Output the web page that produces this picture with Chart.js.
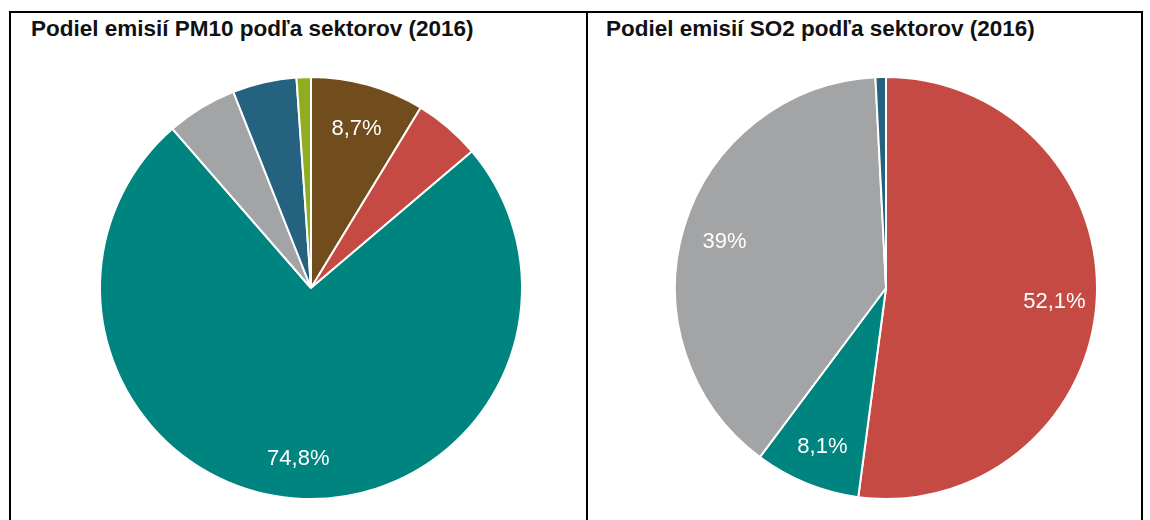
<!DOCTYPE html>
<html lang="sk">
<head>
<meta charset="utf-8">
<title>Podiel emisií podľa sektorov (2016)</title>
<script src="https://cdn.jsdelivr.net/npm/chart.js@4.4.1/dist/chart.umd.min.js"></script>
<style>
  html, body { margin: 0; padding: 0; background: #fff; }
  #wrap { position: relative; width: 1150px; height: 520px; overflow: hidden; font-family: "Liberation Sans", Arial, sans-serif; }
  .panel { position: absolute; top: 11px; height: 520px; border: 2px solid #000; border-bottom: none; box-sizing: border-box; }
  .title { position: absolute; top: 16px; font-weight: bold; font-size: 22.5px; color: #111; white-space: nowrap; }
  .pie { position: absolute; width: 460px; height: 460px; }
</style>
</head>
<body>
<div id="wrap">
  <div class="panel" style="left:9px; width:579px;"></div>
  <div class="panel" style="left:586px; width:557px;"></div>
  <div class="title" style="left:31px;">Podiel emisií PM10 podľa sektorov (2016)</div>
  <div class="title" style="left:606px;">Podiel emisií SO2 podľa sektorov (2016)</div>
  <div class="pie" style="left:81px; top:58px;"><canvas id="pm10"></canvas></div>
  <div class="pie" style="left:656px; top:58px;"><canvas id="so2"></canvas></div>
</div>
<script>
// sektory (farba je rovnaká v oboch grafoch)
const pm10Sectors = ['Sektor A', 'Sektor B', 'Sektor C', 'Sektor D', 'Sektor E', 'Sektor F'];
const pm10Values = [8.7, 5.1, 74.8, 5.4, 4.9, 1.1];
const pm10Colors = ['#714d1d', '#c44a43', '#00847f', '#a3a4a6', '#25627f', '#8fad1f'];

const so2Sectors = ['Sektor B', 'Sektor C', 'Sektor D', 'Sektor E'];
const so2Values = [52.1, 8.1, 39.0, 0.8];
const so2Colors = ['#c44a43', '#00847f', '#a3a4a6', '#25627f'];

const LABEL_MIN = 8;   // menšie výseky bez popisu
const fmt = v => String(+v.toFixed(1)).replace('.', ',') + '%';

// biele percentá vo výsekoch
const sliceLabels = {
  id: 'sliceLabels',
  afterDatasetsDraw(chart) {
    const ctx = chart.ctx;
    const ds = chart.data.datasets[0];
    ctx.save();
    ctx.fillStyle = '#fff';
    ctx.font = '22px "Liberation Sans", Arial, sans-serif';
    ctx.textAlign = 'center';
    ctx.textBaseline = 'middle';
    chart.getDatasetMeta(0).data.forEach((arc, i) => {
      const v = ds.data[i];
      if (v < LABEL_MIN) return;
      const a = (arc.startAngle + arc.endAngle) / 2;
      const r = arc.outerRadius * 0.8;
      ctx.fillText(fmt(v), arc.x + Math.cos(a) * r, arc.y + Math.sin(a) * r + 3);
    });
    ctx.restore();
  }
};

function pie(id, labels, values, colors) {
  return new Chart(document.getElementById(id), {
    type: 'pie',
    data: {
      labels: labels,
      datasets: [{ data: values, backgroundColor: colors, borderColor: '#fff', borderWidth: 2, radius: 211, hoverOffset: 0 }],
    },
    options: {
      responsive: true, maintainAspectRatio: false, animation: false,
      layout: { padding: 0 },
      plugins: { legend: { display: false }, tooltip: { enabled: false } },
    },
    plugins: [sliceLabels],
  });
}

pie('pm10', pm10Sectors, pm10Values, pm10Colors);
pie('so2', so2Sectors, so2Values, so2Colors);
</script>
</body>
</html>
